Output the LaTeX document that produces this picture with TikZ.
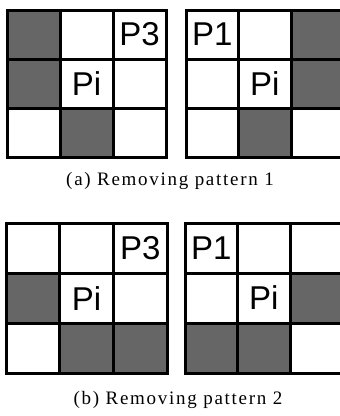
\documentclass[tikz,border=0pt]{standalone}
\usepackage{fontspec}
\setmainfont{Liberation Serif}
\newfontfamily\cellfont{Liberation Sans}
\begin{document}
\begin{tikzpicture}[
  x=1pt, y=-1pt,
  gridline/.style={line width=3pt, line cap=rect},
  shaded/.style={fill=black!60},
  celllabel/.style={font=\cellfont\fontsize{33}{33}\selectfont, inner sep=0pt},
  caption/.style={font=\fontsize{19}{19}\selectfont\addfontfeature{LetterSpace=9}, inner sep=0pt}
]
\useasboundingbox (0,0) rectangle (340,416);
% (a) removing pattern 1
\begin{scope}[shift={(7,10)}, x=53pt, y=-49pt]
  \foreach \c/\r in {0/0,0/1,1/2} \fill[shaded] (\c,\r) rectangle ++(1,1);
  \foreach \i in {0,...,3} {
    \draw[gridline] (\i,0) -- (\i,3);
    \draw[gridline] (0,\i) -- (3,\i);
  }
  \node[celllabel] (p3a) at (2.5,0.5) {P3};
  \node[celllabel] (pia) at (1.5,1.5) {Pi};
\end{scope}
\begin{scope}[shift={(186,10)}, x=52.5pt, y=-49pt]
  \foreach \c/\r in {2/0,2/1,1/2} \fill[shaded] (\c,\r) rectangle ++(1,1);
  \foreach \i in {0,...,3} {
    \draw[gridline] (\i,0) -- (\i,3);
    \draw[gridline] (0,\i) -- (3,\i);
  }
  \node[celllabel] (p1a) at (0.5,0.5) {P1};
  \node[celllabel] (pia2) at (1.5,1.5) {Pi};
\end{scope}
\node[caption] (capa) at (170,181) {(a) Removing pattern 1};
% (b) removing pattern 2
\begin{scope}[shift={(6,223)}, x=53.7pt, y=-50.3pt]
  \foreach \c/\r in {0/1,1/2,2/2} \fill[shaded] (\c,\r) rectangle ++(1,1);
  \foreach \i in {0,...,3} {
    \draw[gridline] (\i,0) -- (\i,3);
    \draw[gridline] (0,\i) -- (3,\i);
  }
  \node[celllabel] (p3b) at (2.5,0.5) {P3};
  \node[celllabel] (pib) at (1.5,1.5) {Pi};
\end{scope}
\begin{scope}[shift={(185,223)}, x=52.5pt, y=-50pt]
  \foreach \c/\r in {2/1,0/2,1/2} \fill[shaded] (\c,\r) rectangle ++(1,1);
  \foreach \i in {0,...,3} {
    \draw[gridline] (\i,0) -- (\i,3);
    \draw[gridline] (0,\i) -- (3,\i);
  }
  \node[celllabel] (p1b) at (0.5,0.5) {P1};
  \node[celllabel] (pib2) at (1.5,1.5) {Pi};
\end{scope}
\node[caption] (capb) at (178,400) {(b) Removing pattern 2};
\end{tikzpicture}
\end{document}
